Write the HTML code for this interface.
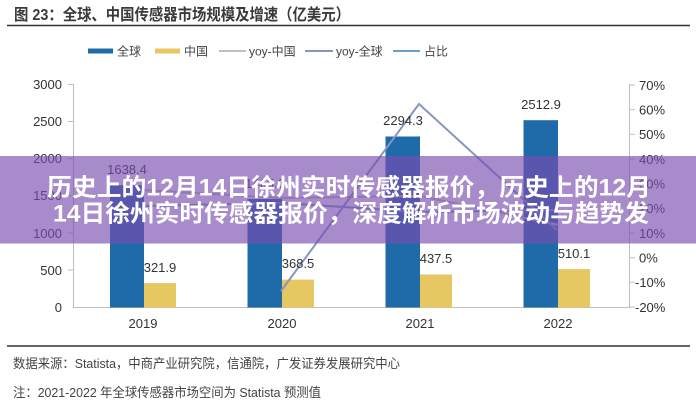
<!DOCTYPE html>
<html>
<head>
<meta charset="utf-8">
<style>
  html,body{margin:0;padding:0;background:#fff;}
  body{width:696px;height:400px;overflow:hidden;}
  svg{display:block;}
  .cjk{font-family:"Liberation Sans","Noto Sans CJK SC",sans-serif;}
  .num{font-family:"Liberation Sans","Noto Sans CJK SC",sans-serif;font-size:13px;fill:#333;}
</style>
</head>
<body>
<svg width="696" height="400" viewBox="0 0 696 400" xmlns="http://www.w3.org/2000/svg">
  <rect width="696" height="400" fill="#fff"/>
  <!-- Title -->
  <text x="14" y="20" class="cjk" font-size="16" font-weight="bold" fill="#3a3a3a" textLength="336" lengthAdjust="spacingAndGlyphs">图 23：全球、中国传感器市场规模及增速（亿美元）</text>
  <line x1="7" y1="25.5" x2="690" y2="25.5" stroke="#333" stroke-width="1.6"/>

  <!-- Legend -->
  <rect x="88" y="48.5" width="25" height="5" fill="#1f6aa8"/>
  <text x="117" y="55.5" class="cjk" font-size="12" fill="#444">全球</text>
  <rect x="155" y="48.5" width="25" height="5" fill="#e6c762"/>
  <text x="184" y="55.5" class="cjk" font-size="12" fill="#444">中国</text>
  <line x1="219" y1="51" x2="246" y2="51" stroke="#bfbfbf" stroke-width="2"/>
  <text x="249" y="55.5" class="cjk" font-size="12" fill="#444">yoy-中国</text>
  <line x1="305" y1="51" x2="333" y2="51" stroke="#8497c0" stroke-width="2"/>
  <text x="336" y="55.5" class="cjk" font-size="12" fill="#444">yoy-全球</text>
  <line x1="393" y1="51" x2="420" y2="51" stroke="#6f9dc7" stroke-width="2"/>
  <text x="424" y="55.5" class="cjk" font-size="12" fill="#444">占比</text>

  <!-- Axes -->
  <g stroke="#bfbfbf" stroke-width="1">
    <line x1="73.5" y1="84" x2="73.5" y2="307.5"/>
    <line x1="629.5" y1="84" x2="629.5" y2="307.5"/>
    <line x1="73" y1="307.5" x2="630" y2="307.5"/>
    <!-- left ticks -->
    <line x1="68" y1="84.5" x2="73" y2="84.5"/>
    <line x1="68" y1="121.5" x2="73" y2="121.5"/>
    <line x1="68" y1="158.5" x2="73" y2="158.5"/>
    <line x1="68" y1="195.5" x2="73" y2="195.5"/>
    <line x1="68" y1="233" x2="73" y2="233"/>
    <line x1="68" y1="270" x2="73" y2="270"/>
    <!-- right ticks -->
    <line x1="630" y1="85" x2="635" y2="85"/>
    <line x1="630" y1="109.7" x2="635" y2="109.7"/>
    <line x1="630" y1="134.3" x2="635" y2="134.3"/>
    <line x1="630" y1="159" x2="635" y2="159"/>
    <line x1="630" y1="183.7" x2="635" y2="183.7"/>
    <line x1="630" y1="208.3" x2="635" y2="208.3"/>
    <line x1="630" y1="233" x2="635" y2="233"/>
    <line x1="630" y1="257.7" x2="635" y2="257.7"/>
    <line x1="630" y1="282.3" x2="635" y2="282.3"/>
    <line x1="630" y1="307" x2="635" y2="307"/>
  </g>

  <!-- Left labels -->
  <g class="num" text-anchor="end">
    <text x="62" y="89">3000</text>
    <text x="62" y="126">2500</text>
    <text x="62" y="163">2000</text>
    <text x="62" y="200">1500</text>
    <text x="62" y="238">1000</text>
    <text x="62" y="275">500</text>
    <text x="62" y="312">0</text>
  </g>
  <!-- Right labels -->
  <g class="num">
    <text x="639" y="90">70%</text>
    <text x="639" y="114.5">60%</text>
    <text x="639" y="139">50%</text>
    <text x="639" y="164">40%</text>
    <text x="639" y="188.5">30%</text>
    <text x="639" y="213">20%</text>
    <text x="639" y="238">10%</text>
    <text x="639" y="262.5">0%</text>
    <text x="635" y="287">-10%</text>
    <text x="635" y="312">-20%</text>
  </g>

  <!-- Bars -->
  <rect x="110" y="185.2" width="34" height="122.3" fill="#1f6aa8"/>
  <rect x="144" y="283.1" width="32" height="24.4" fill="#e6c762"/>
  <rect x="247.5" y="199" width="34.5" height="108.5" fill="#1f6aa8"/>
  <rect x="282" y="279.6" width="32" height="27.9" fill="#e6c762"/>
  <rect x="385.5" y="136.5" width="34.5" height="171" fill="#1f6aa8"/>
  <rect x="420" y="274.5" width="32" height="33" fill="#e6c762"/>
  <rect x="523.5" y="120.2" width="34.5" height="187.3" fill="#1f6aa8"/>
  <rect x="558" y="269.1" width="32" height="38.4" fill="#e6c762"/>

  <!-- Lines -->
  <polyline points="143,190 282,198 420,196 559,225" fill="none" stroke="#bfbfbf" stroke-width="2"/>
  <polyline points="143,206 282,203 420,212 559,210" fill="none" stroke="#6f9dc7" stroke-width="2"/>
  <polyline points="281,291 419,104 557,230" fill="none" stroke="#8497c0" stroke-width="2"/>

  <!-- Data labels -->
  <g class="num" text-anchor="middle" fill="#222">
    <text x="127" y="174">1638.4</text>
    <text x="160" y="272">321.9</text>
    <text x="265" y="188">1465.6</text>
    <text x="298" y="268">368.5</text>
    <text x="403" y="125">2294.3</text>
    <text x="436" y="263">437.5</text>
    <text x="541" y="109">2512.9</text>
    <text x="574" y="258">510.1</text>
  </g>

  <!-- X labels -->
  <g class="num" text-anchor="middle">
    <text x="143" y="328">2019</text>
    <text x="282" y="328">2020</text>
    <text x="420" y="328">2021</text>
    <text x="558" y="328">2022</text>
  </g>

  <!-- Overlay band -->
  <rect x="0" y="156" width="696" height="87.5" fill="rgb(122,77,175)" fill-opacity="0.65"/>
  <text x="47" y="195.5" class="cjk" font-size="24" font-weight="bold" fill="#fff" textLength="604" lengthAdjust="spacingAndGlyphs">历史上的12月14日徐州实时传感器报价，历史上的12月</text>
  <text x="53" y="221.5" class="cjk" font-size="24" font-weight="bold" fill="#fff" textLength="596" lengthAdjust="spacingAndGlyphs">14日徐州实时传感器报价，深度解析市场波动与趋势发</text>

  <!-- Footer -->
  <line x1="7" y1="346" x2="690" y2="346" stroke="#333" stroke-width="1.6"/>
  <text x="13" y="368" class="cjk" font-size="13" fill="#444" textLength="387" lengthAdjust="spacingAndGlyphs">数据来源：Statista，中商产业研究院，信通院，广发证券发展研究中心</text>
  <text x="13" y="397" class="cjk" font-size="13" fill="#444" textLength="308" lengthAdjust="spacingAndGlyphs">注：2021-2022 年全球传感器市场空间为 Statista 预测值</text>
</svg>
</body>
</html>
